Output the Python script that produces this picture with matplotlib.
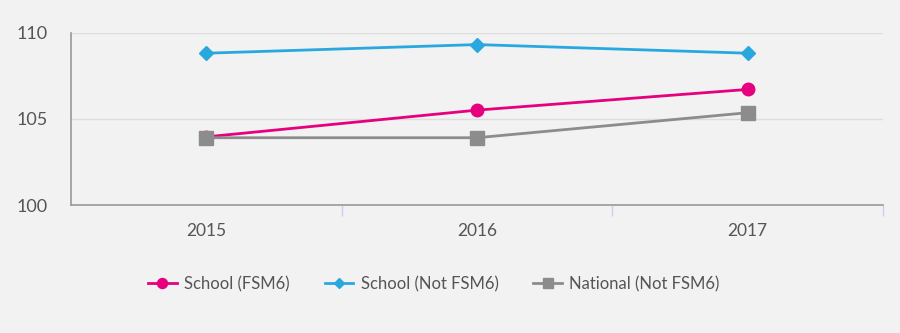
import matplotlib
matplotlib.use("Agg")
import matplotlib.pyplot as plt
from matplotlib.ticker import FixedLocator

years = ["2015", "2016", "2017"]
school_fsm6 = [103.95, 105.5, 106.7]
school_not_fsm6 = [108.8, 109.3, 108.8]
national_not_fsm6 = [103.9, 103.9, 105.35]
y_ticks = [100, 105, 110]

plt.rcParams['font.family'] = ['Lato', 'DejaVu Sans']
bg = '#f2f2f2'
fig = plt.figure(figsize=(9, 3.33), dpi=100, facecolor=bg)
ax = fig.add_axes([71/900, 1-205/333, (883-71)/900, (205-32.5)/333])
ax.set_facecolor(bg)

x = list(range(len(years)))
ax.plot(x, school_fsm6, color='#e6007e', lw=2, marker='o', ms=9, label='School (FSM6)', zorder=3)
ax.plot(x, school_not_fsm6, color='#29a8e0', lw=2, marker='D', ms=7, label='School (Not FSM6)', zorder=3)
ax.plot(x, national_not_fsm6, color='#8c8c8c', lw=2, marker='s', ms=9.5, label='National (Not FSM6)', zorder=4)

ax.set_xlim(-0.5, 2.5)
ax.set_ylim(100, 110)
ax.set_yticks(y_ticks)
ax.set_xticks(x)
ax.set_xticklabels(years)
ax.xaxis.set_minor_locator(FixedLocator([0.5, 1.5, 2.5]))
ax.tick_params(axis='x', which='major', length=0, pad=13, labelsize=12.5, labelcolor='#555555')
ax.tick_params(axis='x', which='minor', length=8, color='#c5d3ea', width=1)
ax.tick_params(axis='y', length=0, pad=17, labelsize=13, labelcolor='#555555')
ax.grid(axis='y', color='#dddddd', lw=1)
ax.set_axisbelow(True)
for s in ['top', 'right']:
    ax.spines[s].set_visible(False)
ax.spines['left'].set_color('#999999')
ax.spines['bottom'].set_color('#999999')
ax.spines['left'].set_linewidth(1.2)
ax.spines['bottom'].set_linewidth(1.2)

leg = fig.legend(loc='center', bbox_to_anchor=(434/900, 1-284/333), ncol=3, frameon=False,
                 fontsize=12, handlelength=1.7, columnspacing=2.1, handletextpad=0.45,
                 markerscale=0.8, labelcolor='#555555')

fig.savefig('out.png', dpi=100, facecolor=bg)
